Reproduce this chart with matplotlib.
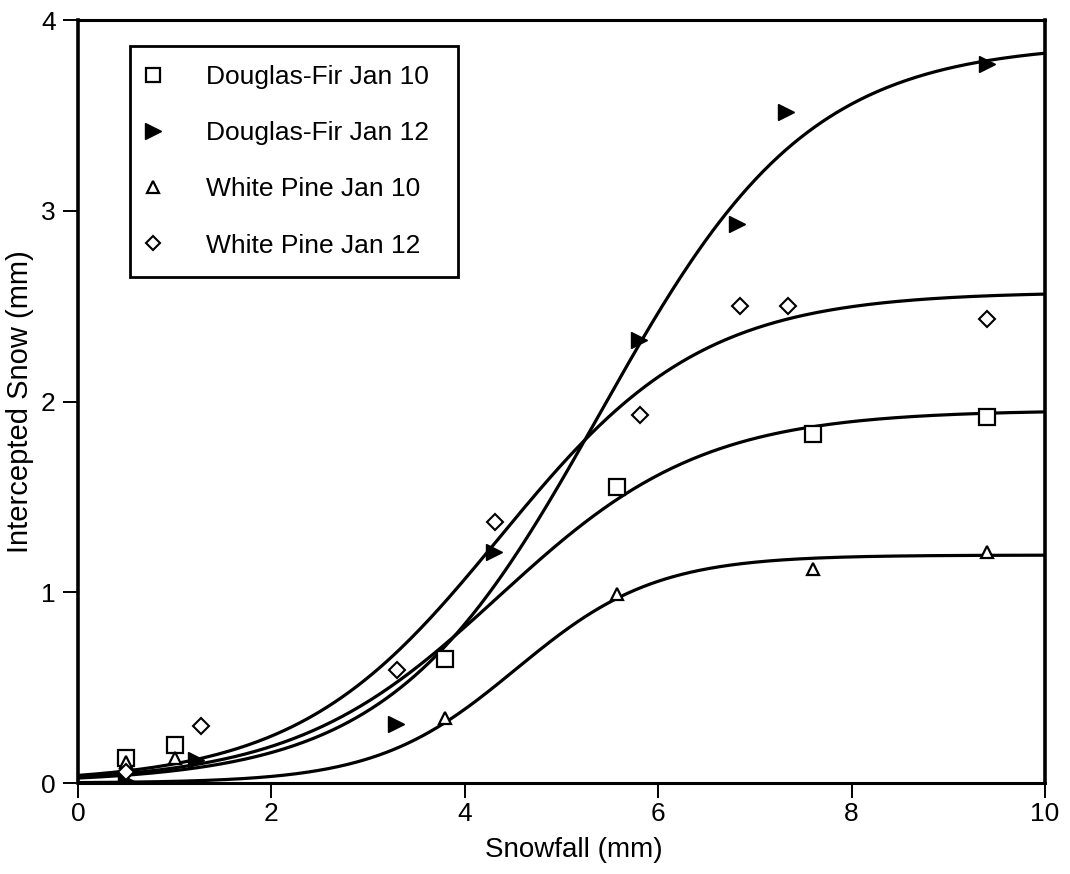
import numpy as np
import matplotlib
matplotlib.use("Agg")
import matplotlib.pyplot as plt
from matplotlib.lines import Line2D

plt.rcParams['font.family'] = ['Liberation Sans', 'DejaVu Sans']

# Observed interception (mm) against snowfall (mm)
df10_x = [0.5, 1.0, 3.8, 5.57, 7.6, 9.4]
df10_y = [0.13, 0.20, 0.65, 1.55, 1.83, 1.92]

df12_x = [0.5, 1.22, 3.29, 4.3, 5.8, 6.81, 7.32, 9.4]
df12_y = [0.01, 0.12, 0.31, 1.21, 2.32, 2.93, 3.52, 3.77]

wp10_x = [0.5, 1.0, 3.8, 5.57, 7.6, 9.4]
wp10_y = [0.11, 0.13, 0.34, 0.99, 1.12, 1.21]

wp12_x = [0.5, 1.27, 3.3, 4.31, 5.81, 6.85, 7.34, 9.4]
wp12_y = [0.06, 0.30, 0.59, 1.37, 1.93, 2.50, 2.50, 2.43]

# Fitted logistic curves: (asymptote, midpoint, scale)
df10_fit = (1.955, 4.35, 1.06)
df12_fit = (3.88, 5.40, 1.08)
wp10_fit = (1.195, 4.53, 0.72)
wp12_fit = (2.575, 4.36, 1.05)

labels = ["Douglas-Fir Jan 10", "Douglas-Fir Jan 12",
          "White Pine Jan 10", "White Pine Jan 12"]

x_ticks = [0, 2, 4, 6, 8, 10]
y_ticks = [0, 1, 2, 3, 4]


def logistic(x, params):
    a, m, s = params
    return a / (1.0 + np.exp(-(x - m) / s))


fig = plt.figure(figsize=(10.70, 8.74), dpi=100)
ax = fig.add_axes([0.0729, 0.1041, 0.9037, 0.8730])

xs = np.linspace(0, 10, 400)
for fit in (df12_fit, wp12_fit, df10_fit, wp10_fit):
    ax.plot(xs, logistic(xs, fit), color='black', lw=2.3,
            solid_capstyle='butt', zorder=2)

mk_common = dict(linestyle='none', zorder=3)
ax.plot(df10_x, df10_y, marker='s', ms=11, mfc='white', mec='black',
        mew=1.6, **mk_common)
ax.plot(df12_x, df12_y, marker='>', ms=12, mfc='black', mec='black',
        mew=1.0, **mk_common)
ax.plot(wp10_x, wp10_y, marker='^', ms=9, mfc='white', mec='black',
        mew=1.6, **mk_common)
ax.plot(wp12_x, wp12_y, marker='D', ms=8.0, mfc='white', mec='black',
        mew=1.5, **mk_common)

ax.set_xlim(0, 10)
ax.set_ylim(0, 4)
ax.set_xticks(x_ticks)
ax.set_yticks(y_ticks)
ax.set_xticklabels([str(t) for t in x_ticks])
ax.set_yticklabels([str(t) for t in y_ticks])

ax.tick_params(axis='both', direction='out', length=11, width=1.4,
               labelsize=19, colors='black')
ax.tick_params(axis='x', pad=3)
ax.tick_params(axis='y', pad=5)
for side in ('left', 'right'):
    ax.spines[side].set_linewidth(2.6)
for side in ('top', 'bottom'):
    ax.spines[side].set_linewidth(2.2)

ax.set_xlabel("Snowfall (mm)", fontsize=20, labelpad=6)
ax.set_ylabel("Intercepted Snow (mm)", fontsize=21, labelpad=5)
ax.xaxis.set_label_coords(0.513, -0.071)

handles = [
    Line2D([], [], linestyle='none', marker='s', ms=10.5, mfc='white',
           mec='black', mew=1.6),
    Line2D([], [], linestyle='none', marker='>', ms=11.5, mfc='black',
           mec='black'),
    Line2D([], [], linestyle='none', marker='^', ms=9, mfc='white',
           mec='black', mew=1.6),
    Line2D([], [], linestyle='none', marker='D', ms=7.5, mfc='white',
           mec='black', mew=1.5),
]
leg = ax.legend(handles, labels, loc='upper left',
                bbox_to_anchor=(0.054, 0.0, 0.339, 0.966), mode='expand',
                borderaxespad=0,
                fontsize=19, frameon=True, fancybox=False, shadow=False,
                borderpad=0.72, labelspacing=1.22, handlelength=0.3,
                handletextpad=1.85, edgecolor='black', framealpha=1)
leg.get_frame().set_linewidth(2.0)

fig.savefig("out.png", dpi=100, facecolor='white')
